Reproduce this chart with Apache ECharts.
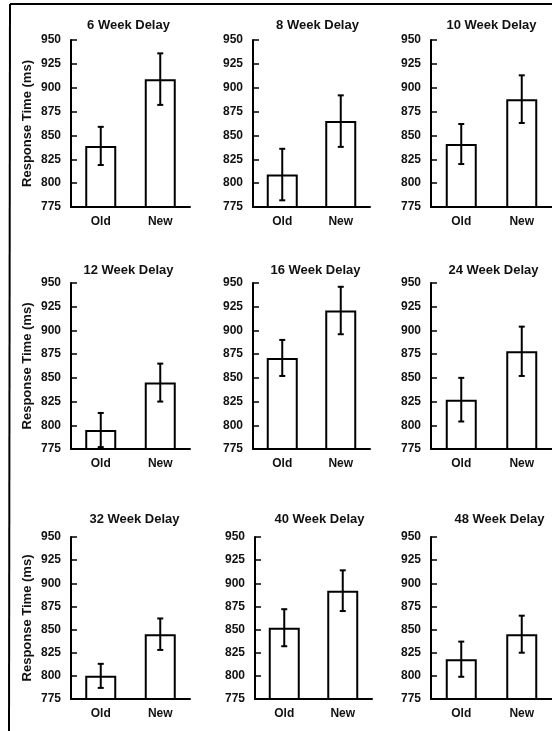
<!DOCTYPE html>
<html>
<head>
<meta charset="utf-8">
<script src="https://cdn.jsdelivr.net/npm/echarts@6/dist/echarts.min.js"></script>
<style>
  html, body { margin: 0; padding: 0; background: #fff; }
  #chart { width: 552px; height: 731px; }
</style>
</head>
<body>
<div id="chart"></div>
<script>
// data
var delays = ['6', '8', '10', '12', '16', '24', '32', '40', '48'];
var conditions = ['Old', 'New'];
var oldMeans = [839, 809, 841, 795, 871, 827, 800, 852, 818];
var newMeans = [909, 865, 888, 845, 921, 878, 845, 892, 845];
var oldErr = [20, 27, 21, 18, 19, 23, 13, 20, 19];
var newErr = [27, 27, 25, 20, 25, 26, 17, 22, 20];
var yMin = 775, yMax = 950, yStep = 25;

// panel layout (pixels)
var colLeft = [71, 253, 431];
var colWidth = [119, 117, 121];
var rowTop = [40, 283, 537];
var rowHeight = [167, 166, 162];
var titleTop = [19, 264, 513];
var titleShift = [[0, 8, 2], [0, 6, 4], [6, 8, 10]];

var font = 'Liberation Sans, Arial, Helvetica, sans-serif';

var chart = echarts.init(document.getElementById('chart'));

function errorBar(params, api) {
  var x = api.value(0);
  var lo = api.coord([x, api.value(1)]);
  var hi = api.coord([x, api.value(2)]);
  var cap = 3;
  var st = { stroke: '#000', lineWidth: 2 };
  return {
    type: 'group',
    children: [
      { type: 'line', shape: { x1: hi[0], y1: hi[1], x2: lo[0], y2: lo[1] }, style: st },
      { type: 'line', shape: { x1: hi[0] - cap, y1: hi[1], x2: hi[0] + cap, y2: hi[1] }, style: st },
      { type: 'line', shape: { x1: lo[0] - cap, y1: lo[1], x2: lo[0] + cap, y2: lo[1] }, style: st }
    ]
  };
}

var grids = [], xAxes = [], yAxes = [], titles = [], series = [];

delays.forEach(function (d, i) {
  var r = Math.floor(i / 3), c = i % 3;
  var left = colLeft[c] + (i === 7 ? 2 : 0);
  grids.push({ left: left, top: rowTop[r], width: colWidth[c], height: rowHeight[r] });
  titles.push({
    text: d + ' Week Delay',
    left: left + colWidth[c] / 2 + titleShift[r][c] - 2,
    top: titleTop[r],
    textAlign: 'center',
    padding: 0,
    textStyle: { fontFamily: font, fontSize: 13, fontWeight: 'bold', color: '#111' }
  });
  xAxes.push({
    type: 'category', gridIndex: i, data: conditions,
    axisLine: { lineStyle: { color: '#000', width: 2 } },
    axisTick: { show: false },
    axisLabel: { margin: 9, fontFamily: font, fontSize: 12, fontWeight: 'bold', color: '#111' }
  });
  yAxes.push({
    type: 'value', gridIndex: i, min: yMin, max: yMax, interval: yStep,
    name: c === 0 ? 'Response Time (ms)' : '',
    nameLocation: 'middle', nameGap: 37, nameRotate: 90,
    nameTextStyle: { fontFamily: font, fontSize: 13, fontWeight: 'bold', color: '#111' },
    axisLine: { show: true, lineStyle: { color: '#000', width: 2 } },
    axisTick: { show: true, inside: true, length: 6, lineStyle: { color: '#000', width: 1.5 } },
    axisLabel: { margin: 10, fontFamily: font, fontSize: 12, fontWeight: 'bold', color: '#111' },
    splitLine: { show: false }
  });
  series.push({
    type: 'bar', xAxisIndex: i, yAxisIndex: i, barWidth: 31,
    data: [oldMeans[i], newMeans[i]],
    itemStyle: { color: '#fff', borderColor: '#000', borderWidth: 2 },
    silent: true
  });
  series.push({
    type: 'custom', xAxisIndex: i, yAxisIndex: i, z: 5,
    renderItem: errorBar,
    encode: { x: 0, y: [1, 2] },
    data: [
      [0, oldMeans[i] - oldErr[i], oldMeans[i] + oldErr[i]],
      [1, newMeans[i] - newErr[i], newMeans[i] + newErr[i]]
    ],
    silent: true
  });
});

chart.setOption({
  animation: false,
  backgroundColor: '#fff',
  title: titles,
  grid: grids,
  xAxis: xAxes,
  yAxis: yAxes,
  series: series,
  graphic: [
    { type: 'line', shape: { x1: 10, y1: 4, x2: 552, y2: 4 }, style: { stroke: '#000', lineWidth: 2 } },
    { type: 'line', shape: { x1: 10, y1: 4, x2: 9, y2: 731 }, style: { stroke: '#000', lineWidth: 2 } }
  ]
});
</script>
</body>
</html>
